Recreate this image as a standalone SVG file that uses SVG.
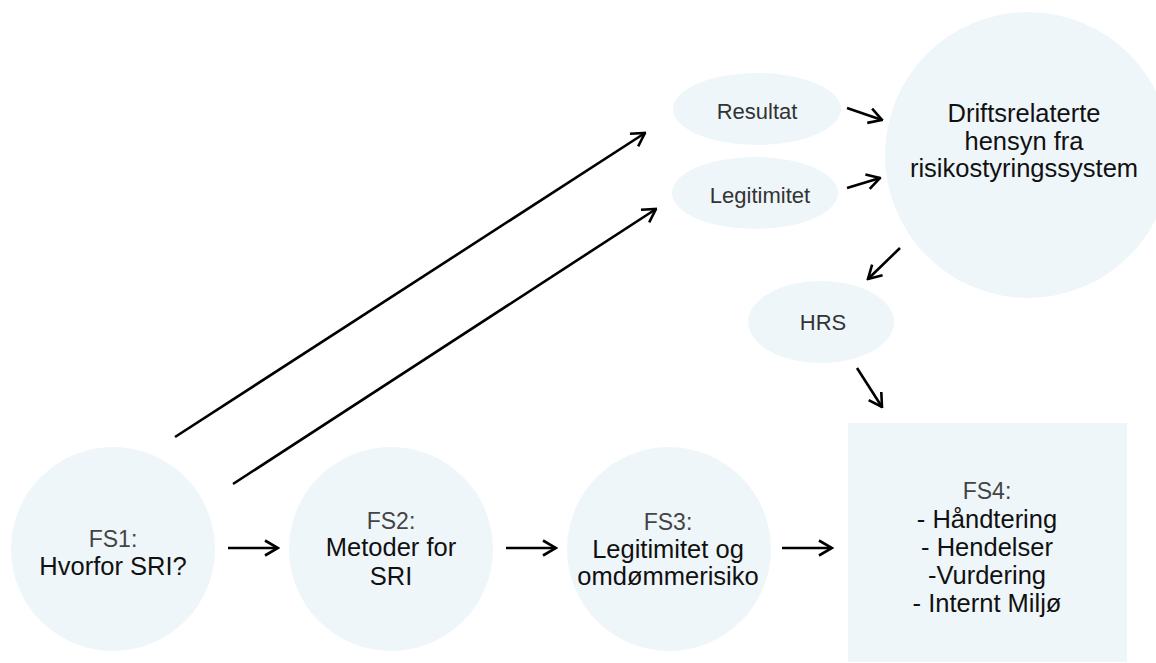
<svg xmlns="http://www.w3.org/2000/svg" width="1156" height="663" viewBox="0 0 1156 663">
<defs>
<style>
.shape{fill:#eff6fa;stroke:none}
.lbl{font-family:"Liberation Sans",Arial,sans-serif;font-size:23px;fill:#444;text-anchor:middle}
.main{font-family:"Liberation Sans",Arial,sans-serif;font-size:25.5px;fill:#111;text-anchor:middle}
.small{font-family:"Liberation Sans",Arial,sans-serif;font-size:22px;fill:#333;text-anchor:middle}
.conn{stroke:#000;stroke-width:2.6;fill:none;marker-end:url(#arr)}
</style>
<marker id="arr" viewBox="0 0 16 18" refX="14.5" refY="9" markerWidth="16" markerHeight="18" markerUnits="userSpaceOnUse" orient="auto">
<path d="M1.5,1.5 L14.5,9 L1.5,16.5" fill="none" stroke="#000" stroke-width="2.6"/>
</marker>
</defs>
<rect width="1156" height="663" fill="#fff"/>
<g id="node-fs1">
<circle class="shape" cx="113" cy="549" r="102"/>
<text class="lbl" x="113" y="547">FS1:</text>
<text class="main" x="113" y="575">Hvorfor SRI?</text>
</g>
<g id="node-fs2">
<circle class="shape" cx="391" cy="549" r="102"/>
<text class="lbl" x="391" y="529">FS2:</text>
<text class="main" x="391" y="556">Metoder for</text>
<text class="main" x="391" y="585">SRI</text>
</g>
<g id="node-fs3">
<circle class="shape" cx="669" cy="549" r="102"/>
<text class="lbl" x="668" y="530">FS3:</text>
<text class="main" x="668" y="558">Legitimitet og</text>
<text class="main" x="668" y="585">omdømmerisiko</text>
</g>
<g id="node-fs4">
<rect class="shape" x="848" y="423" width="279" height="239"/>
<text class="lbl" x="987" y="499">FS4:</text>
<text class="main" x="987" y="528">- Håndtering</text>
<text class="main" x="987" y="556">- Hendelser</text>
<text class="main" x="987" y="584">-Vurdering</text>
<text class="main" x="987" y="612">- Internt Miljø</text>
</g>
<g id="node-drift">
<circle class="shape" cx="1028" cy="155" r="143"/>
<text class="main" x="1024" y="122">Driftsrelaterte</text>
<text class="main" x="1024" y="150">hensyn fra</text>
<text class="main" x="1024" y="177">risikostyringssystem</text>
</g>
<g id="node-resultat">
<ellipse class="shape" cx="757" cy="109" rx="84" ry="36"/>
<text class="small" x="757" y="119">Resultat</text>
</g>
<g id="node-legitimitet">
<ellipse class="shape" cx="755" cy="193" rx="83" ry="36"/>
<text class="small" x="760" y="203">Legitimitet</text>
</g>
<g id="node-hrs">
<ellipse class="shape" cx="821" cy="322" rx="73" ry="41"/>
<text class="small" x="823" y="330">HRS</text>
</g>
<g id="connectors">
<line class="conn" x1="175" y1="437" x2="645" y2="133"/>
<line class="conn" x1="233" y1="484" x2="656" y2="209"/>
<line class="conn" x1="847" y1="108" x2="882" y2="120"/>
<line class="conn" x1="847" y1="188" x2="880" y2="178"/>
<line class="conn" x1="900" y1="248" x2="868" y2="279"/>
<line class="conn" x1="857" y1="368" x2="882" y2="407"/>
<line class="conn" x1="228" y1="548" x2="278" y2="548"/>
<line class="conn" x1="506" y1="548" x2="556" y2="548"/>
<line class="conn" x1="782" y1="548" x2="832" y2="548"/>
</g>
</svg>
